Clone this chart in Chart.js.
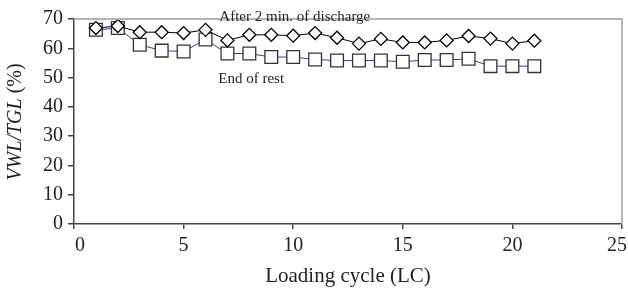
<!DOCTYPE html>
<html>
<head>
<meta charset="utf-8">
<script src="https://cdn.jsdelivr.net/npm/chart.js@4/dist/chart.umd.min.js"></script>
<style>
  html, body { margin: 0; padding: 0; background: #fff; }
  #wrap { width: 628px; height: 289px; }
</style>
</head>
<body>
<div id="wrap"><canvas id="cycleChart" width="628" height="289"></canvas></div>
<script>
// loading cycles
const cycles = [1, 2, 3, 4, 5, 6, 7, 8, 9, 10, 11, 12, 13, 14, 15, 16, 17, 18, 19, 20, 21];
// VWL/TGL after 2 min of discharge (%)
const afterDischarge = [66.9, 67.6, 65.5, 65.5, 65.2, 66.3, 62.7, 64.6, 64.6, 64.3, 65.2,
  63.6, 61.6, 63.2, 62.0, 62.0, 62.7, 64.2, 63.3, 61.6, 62.6];
// VWL/TGL at end of rest (%)
const endOfRest = [66.3, 66.9, 61.2, 59.2, 58.9, 63.0, 58.2, 58.2, 57.0, 57.0, 56.2,
  55.8, 55.8, 55.8, 55.4, 56.0, 56.0, 56.4, 53.9, 53.9, 53.9];
const xTicks = [0, 5, 10, 15, 20, 25];
const yTicks = [0, 10, 20, 30, 40, 50, 60, 70];

const serif = "'Liberation Serif', 'Times New Roman', serif";

// text labels, frame lines, x tick labels and y title
const decorations = {
  id: 'decorations',
  afterDraw(chart) {
    const ctx = chart.ctx;
    const area = chart.chartArea;
    const xs = chart.scales.x;
    const ys = chart.scales.y;
    ctx.save();
    // light grey top/right frame
    ctx.strokeStyle = '#b4b4b4';
    ctx.lineWidth = 2;
    ctx.beginPath();
    ctx.moveTo(area.left, area.top);
    ctx.lineTo(area.right, area.top);
    ctx.lineTo(area.right, area.bottom);
    ctx.stroke();

    // x tick labels (first one starts at its tick, last one ends at the edge)
    ctx.fillStyle = '#222';
    ctx.font = '20px ' + serif;
    ctx.textBaseline = 'alphabetic';
    xs.ticks.forEach((t, i) => {
      let px = xs.getPixelForValue(t.value);
      if (i === 0) { ctx.textAlign = 'left'; px += 1; }
      else if (i === xs.ticks.length - 1) { ctx.textAlign = 'right'; px = chart.width - 1; }
      else { ctx.textAlign = 'center'; }
      ctx.fillText(String(t.value), px, area.bottom + 27);
    });

    // series labels
    ctx.textAlign = 'left';
    ctx.font = '15px ' + serif;
    ctx.fillText('After 2 min. of discharge', xs.getPixelForValue(6.63), ys.getPixelForValue(69.3));
    ctx.fillText('End of rest', xs.getPixelForValue(6.58), ys.getPixelForValue(48));

    // y title: italic part + upright part
    ctx.translate(16, 122);
    ctx.rotate(-Math.PI / 2);
    const a = 'VWL/TGL ';
    const b = '(%)';
    ctx.font = 'italic 20px ' + serif;
    const wa = ctx.measureText(a).width;
    ctx.font = '20px ' + serif;
    const wb = ctx.measureText(b).width;
    const start = -(wa + wb) / 2;
    ctx.textBaseline = 'middle';
    ctx.font = 'italic 20px ' + serif;
    ctx.fillText(a, start, 0);
    ctx.font = '20px ' + serif;
    ctx.fillText(b, start + wa, 0);
    ctx.restore();
  }
};

const ctx = document.getElementById('cycleChart').getContext('2d');
new Chart(ctx, {
  type: 'line',
  data: {
    labels: cycles,
    datasets: [
      {
        label: 'After 2 min. of discharge',
        data: cycles.map((c, i) => ({ x: c, y: afterDischarge[i] })),
        borderColor: '#000',
        borderWidth: 1,
        pointStyle: 'rectRot',
        pointRadius: 6.5,
        pointBorderWidth: 1.3,
        pointBorderColor: '#000',
        pointBackgroundColor: '#fff',
        order: 1
      },
      {
        label: 'End of rest',
        data: cycles.map((c, i) => ({ x: c, y: endOfRest[i] })),
        borderColor: '#3a3aa8',
        borderWidth: 1,
        pointStyle: 'rect',
        pointRadius: 9,
        pointBorderWidth: 1.3,
        pointBorderColor: '#333',
        pointBackgroundColor: '#fff',
        order: 2
      }
    ]
  },
  options: {
    responsive: false,
    animation: false,
    layout: { autoPadding: false, padding: { left: 0, right: 6, top: 19, bottom: 0 } },
    plugins: {
      legend: { display: false },
      tooltip: { enabled: false }
    },
    scales: {
      x: {
        type: 'linear',
        min: 0,
        max: 25,
        afterBuildTicks: s => { s.ticks = xTicks.map(v => ({ value: v })); },
        afterFit: s => { s.height = 65; s.paddingLeft = 0; s.paddingRight = 0; },
        border: { color: '#444', width: 1.5 },
        grid: { drawOnChartArea: false, tickLength: 5, color: '#444', lineWidth: 1.5 },
        ticks: { display: false },
        title: { display: true, text: 'Loading cycle (LC)', color: '#222', font: { family: serif, size: 21 }, padding: { top: 4, bottom: 0 } }
      },
      y: {
        min: 0,
        max: 70,
        afterBuildTicks: s => { s.ticks = yTicks.map(v => ({ value: v })); },
        afterFit: s => { s.width = 74; },
        border: { color: '#444', width: 1.5 },
        grid: { drawOnChartArea: false, tickLength: 6, color: '#444', lineWidth: 1.5 },
        ticks: { color: '#222', font: { family: serif, size: 20 }, padding: 5 }
      }
    }
  },
  plugins: [decorations]
});
</script>
</body>
</html>
